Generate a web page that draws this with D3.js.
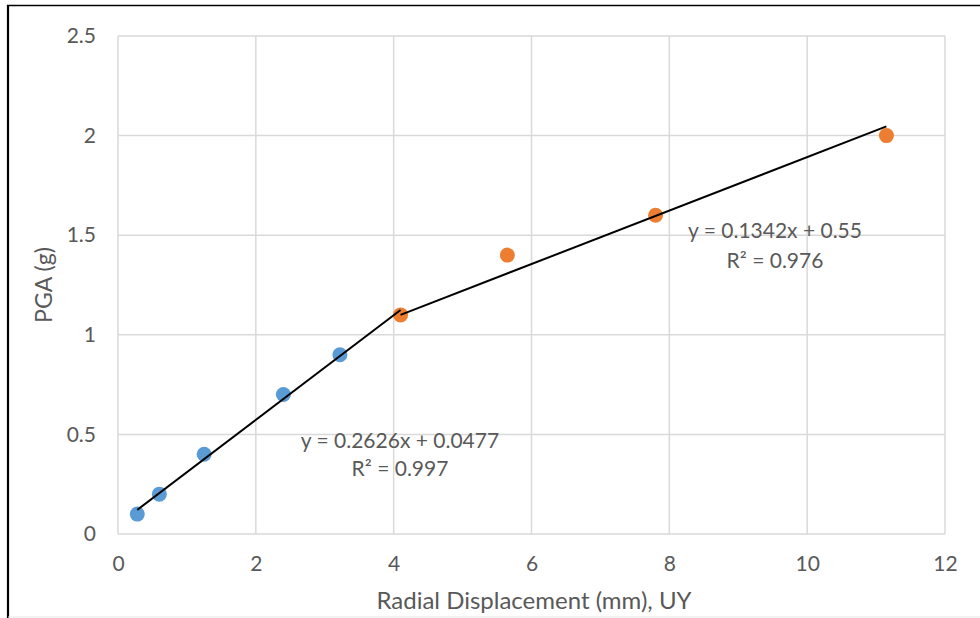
<!DOCTYPE html>
<html>
<head>
<meta charset="utf-8">
<script src="https://cdn.jsdelivr.net/npm/d3@7"></script>
<style>
  body { margin: 0; background: #fff; }
  svg { display: block; }
  text { font-family: Lato, "Open Sans", sans-serif; fill: #595959; }
</style>
</head>
<body>
<script>
// data
const blueX = [0.28, 0.6, 1.25, 2.4, 3.22]
const blueY = [0.1, 0.2, 0.4, 0.7, 0.9]
const orangeX = [4.1, 5.65, 7.8, 11.15]
const orangeY = [1.1, 1.4, 1.6, 2.0]

// trendlines: [slope, intercept, xStart, xEnd]
const trend1 = [0.2626, 0.0477, 0.28, 4.1]
const trend2 = [0.1342, 0.55, 4.1, 11.15]
const trendLabels = [
  ['y = 0.2626x + 0.0477', 'R² = 0.997'],
  ['y = 0.1342x + 0.55', 'R² = 0.976']
]

const xTicks = [0, 2, 4, 6, 8, 10, 12]
const yTicks = [0, 0.5, 1, 1.5, 2, 2.5]

const width = 980, height = 618
const margin = {top: 36, right: 35, bottom: 84, left: 118}

const svg = d3.select('body').append('svg')
  .attr('width', width)
  .attr('height', height)

// frame
svg.append('line').attr('x1', 7).attr('x2', width).attr('y1', 5.5).attr('y2', 5.5)
  .attr('stroke', '#000').attr('stroke-width', 1.5)
svg.append('line').attr('x1', 8).attr('x2', 8).attr('y1', 5).attr('y2', height)
  .attr('stroke', '#000').attr('stroke-width', 2.2)
svg.append('line').attr('x1', 8).attr('x2', width).attr('y1', 617).attr('y2', 617)
  .attr('stroke', '#e6e6e6').attr('stroke-width', 1)

const x = d3.scaleLinear().domain([0, 12]).range([margin.left, width - margin.right])
const y = d3.scaleLinear().domain([0, 2.5]).range([height - margin.bottom, margin.top])

//====================GRID===================
const grid = svg.append('g').attr('stroke', '#d9d9d9').attr('stroke-width', 1.5)
grid.selectAll('.gx').data(xTicks).enter().append('line')
  .attr('x1', d => x(d)).attr('x2', d => x(d))
  .attr('y1', y(0)).attr('y2', y(2.5))
grid.selectAll('.gy').data(yTicks).enter().append('line')
  .attr('x1', x(0)).attr('x2', x(12))
  .attr('y1', d => y(d)).attr('y2', d => y(d))

//====================AXES===================
const xAxis = svg.append('g')
  .attr('transform', `translate(0,${y(0)})`)
  .call(d3.axisBottom(x).tickValues(xTicks).tickSize(0).tickPadding(22).tickFormat(d3.format('d')))
const yAxis = svg.append('g')
  .attr('transform', `translate(${x(0)},0)`)
  .call(d3.axisLeft(y).tickValues(yTicks).tickSize(0).tickPadding(22).tickFormat(d => d))
;[xAxis, yAxis].forEach(a => {
  a.select('.domain').remove()
  a.selectAll('text').style('font-size', '21px').attr('fill', '#595959')
    .style('font-family', 'Lato, sans-serif')
})

svg.append('text')
  .attr('x', 534).attr('y', 609)
  .attr('text-anchor', 'middle').style('font-size', '24px')
  .text('Radial Displacement (mm), UY')
svg.append('text')
  .attr('transform', `translate(52,285) rotate(-90)`)
  .attr('text-anchor', 'middle').style('font-size', '24px')
  .attr('textLength', 76).attr('lengthAdjust', 'spacingAndGlyphs')
  .text('PGA (g)')

//====================POINTS===================
const drawPoints = (xs, ys, color) => {
  svg.append('g').selectAll('circle')
    .data(xs.map((d, i) => [d, ys[i]]))
    .enter().append('circle')
    .attr('cx', d => x(d[0])).attr('cy', d => y(d[1]))
    .attr('r', 7.5).attr('fill', color)
}
drawPoints(blueX, blueY, '#5B9BD5')
drawPoints(orangeX, orangeY, '#ED7D31')

//====================TRENDLINES===================
const line = d3.line().x(d => x(d[0])).y(d => y(d[1]))
;[trend1, trend2].forEach(t => {
  const [m, b, x0, x1] = t
  svg.append('path')
    .attr('d', line([[x0, m * x0 + b], [x1, m * x1 + b]]))
    .attr('stroke', '#000').attr('stroke-width', 2).attr('fill', 'none')
})

const labelPos = [[400, 448, 476], [775, 238, 268]]
trendLabels.forEach((lbl, i) => {
  const [cx, y1, y2] = labelPos[i]
  svg.append('text').attr('x', cx).attr('y', y1).attr('text-anchor', 'middle')
    .style('font-size', '21px').text(lbl[0])
  svg.append('text').attr('x', cx).attr('y', y2).attr('text-anchor', 'middle')
    .style('font-size', '21px').text(lbl[1])
})
</script>
</body>
</html>
